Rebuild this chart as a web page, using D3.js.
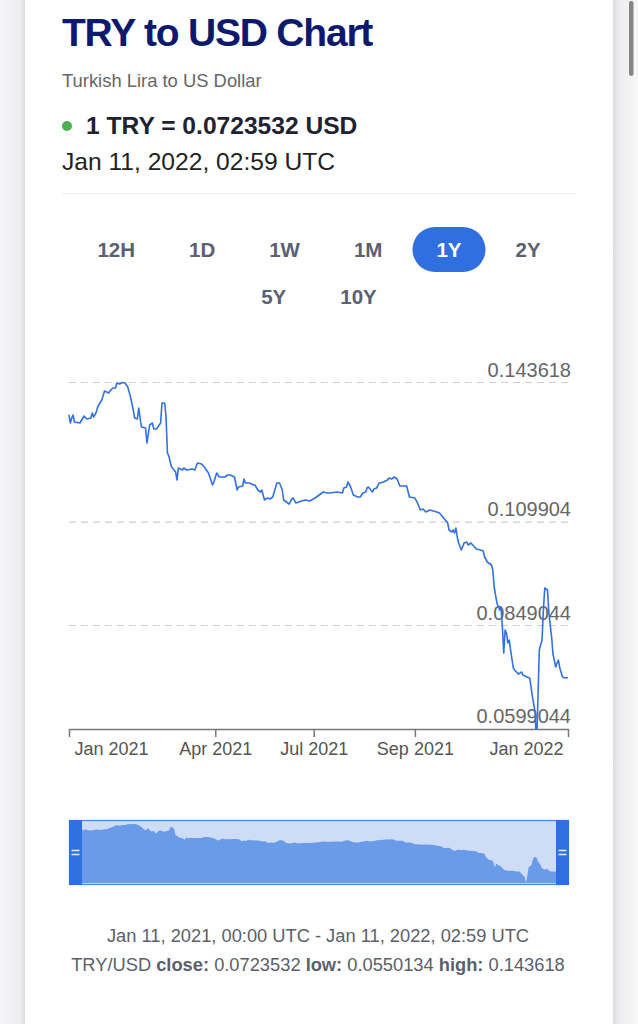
<!DOCTYPE html>
<html>
<head>
<meta charset="utf-8">
<script src="https://cdn.jsdelivr.net/npm/d3@7"></script>
<style>
  body { margin: 0; background: #f3f3f5; overflow: hidden; }
  svg { display: block; font-family: 'Liberation Sans', Arial, Helvetica, sans-serif; }
</style>
</head>
<body>
<svg id="page" width="638" height="1024"></svg>
<script>
// ---- data ----
const dates = [
  '2021-01-11','2021-01-12','2021-01-13','2021-01-14','2021-01-15','2021-01-19','2021-01-22','2021-01-24',
  '2021-01-27','2021-01-28','2021-01-29','2021-01-31','2021-02-01','2021-02-03','2021-02-04','2021-02-06',
  '2021-02-09','2021-02-10','2021-02-12','2021-02-14','2021-02-15','2021-02-17','2021-02-19','2021-02-21',
  '2021-02-23','2021-02-25','2021-02-27','2021-02-28','2021-03-02','2021-03-03','2021-03-04','2021-03-05',
  '2021-03-08','2021-03-09','2021-03-11','2021-03-13','2021-03-14','2021-03-16','2021-03-18','2021-03-19',
  '2021-03-20','2021-03-22','2021-03-23','2021-03-24','2021-03-25','2021-03-27','2021-03-30','2021-03-31',
  '2021-04-01','2021-04-04','2021-04-05','2021-04-07','2021-04-11','2021-04-13','2021-04-15','2021-04-18',
  '2021-04-20','2021-04-23','2021-04-26','2021-04-27','2021-04-29','2021-05-01','2021-05-03','2021-05-05',
  '2021-05-07','2021-05-09','2021-05-12','2021-05-14','2021-05-15','2021-05-18','2021-05-19','2021-05-20',
  '2021-05-23','2021-05-26','2021-05-27','2021-05-29','2021-05-31','2021-06-01','2021-06-02','2021-06-03',
  '2021-06-05','2021-06-07','2021-06-09','2021-06-11','2021-06-12','2021-06-14','2021-06-16','2021-06-17',
  '2021-06-19','2021-06-21','2021-06-23','2021-06-24','2021-06-26','2021-06-28','2021-06-30','2021-07-03',
  '2021-07-06','2021-07-10','2021-07-12','2021-07-16','2021-07-19','2021-07-21','2021-07-26','2021-07-30',
  '2021-07-31','2021-08-02','2021-08-03','2021-08-05','2021-08-07','2021-08-10','2021-08-12','2021-08-14',
  '2021-08-16','2021-08-17','2021-08-18','2021-08-21','2021-08-22','2021-08-24','2021-08-26','2021-08-29',
  '2021-09-01','2021-09-02','2021-09-04','2021-09-06','2021-09-08','2021-09-10','2021-09-15','2021-09-17',
  '2021-09-21','2021-09-23','2021-09-25','2021-09-27','2021-09-29','2021-10-02','2021-10-07','2021-10-09',
  '2021-10-12','2021-10-15','2021-10-16','2021-10-18','2021-10-19','2021-10-20','2021-10-21','2021-10-22',
  '2021-10-23','2021-10-25','2021-10-27','2021-10-29','2021-10-30','2021-11-01','2021-11-03','2021-11-05',
  '2021-11-08','2021-11-10','2021-11-11','2021-11-13','2021-11-16','2021-11-17','2021-11-18','2021-11-20',
  '2021-11-22','2021-11-23','2021-11-24','2021-11-25','2021-11-26','2021-11-27','2021-11-28','2021-11-29',
  '2021-11-30','2021-12-02','2021-12-03','2021-12-05','2021-12-06','2021-12-08','2021-12-09','2021-12-12',
  '2021-12-14','2021-12-16','2021-12-18','2021-12-19','2021-12-21','2021-12-23','2021-12-24','2021-12-25',
  '2021-12-27','2021-12-28','2021-12-30','2021-12-31','2022-01-02','2022-01-03','2022-01-04','2022-01-05',
  '2022-01-07','2022-01-09','2022-01-11'
];
const rates = [
  0.13577,0.13383,0.13504,0.13577,0.13408,0.13383,0.13553,0.13480,
  0.13504,0.13625,0.13528,0.13649,0.13770,0.13891,0.13939,0.14156,
  0.14108,0.14156,0.14229,0.14229,0.14350,0.14326,0.143618,0.14350,
  0.14253,0.14011,0.13698,0.13504,0.13480,0.13746,0.13504,0.13287,
  0.13263,0.12900,0.13335,0.13383,0.13239,0.13239,0.13335,0.13383,
  0.13867,0.13867,0.13528,0.12659,0.12586,0.12320,0.12199,0.12006,
  0.12296,0.12248,0.12296,0.12248,0.12272,0.12248,0.12417,0.12393,
  0.12320,0.12175,0.11886,0.11958,0.12175,0.12079,0.12079,0.12079,
  0.12127,0.12127,0.12079,0.11765,0.11837,0.11861,0.12030,0.11934,
  0.11934,0.11886,0.11886,0.11765,0.11716,0.11765,0.11644,0.11523,
  0.11571,0.11547,0.11595,0.11813,0.11934,0.11934,0.11765,0.11523,
  0.11475,0.11426,0.11547,0.11571,0.11450,0.11475,0.11499,0.11523,
  0.11499,0.11571,0.11620,0.11716,0.11692,0.11692,0.11716,0.11692,
  0.11813,0.11837,0.11958,0.11837,0.11644,0.11595,0.11595,0.11692,
  0.11716,0.11813,0.11837,0.11716,0.11789,0.11813,0.11934,0.11958,
  0.12006,0.12055,0.12030,0.12079,0.12030,0.11861,0.11861,0.11595,
  0.11571,0.11450,0.11281,0.11306,0.11233,0.11281,0.11233,0.11209,
  0.11088,0.10968,0.10798,0.10750,0.10798,0.10726,0.10847,0.10629,
  0.10484,0.10315,0.10484,0.10508,0.10436,0.10484,0.10412,0.10339,
  0.10315,0.10291,0.10146,0.10025,0.09953,0.09832,0.09421,0.09035,
  0.08866,0.08938,0.08455,0.07827,0.08382,0.08310,0.08068,0.08141,
  0.07899,0.07464,0.07416,0.07343,0.07319,0.07368,0.07295,0.07247,
  0.07223,0.06764,0.06377,0.0550134,0.07899,0.08141,0.08866,0.09397,
  0.09349,0.08793,0.08213,0.07809,0.07489,0.07585,0.07657,0.07464,
  0.07247,0.07223,0.0723532
];
const yTicks = [0.0599044, 0.0849044, 0.109904, 0.143618];
const yTickLabels = ['0.0599044', '0.0849044', '0.109904', '0.143618'];
const xTickDates = ['2021-01-11', '2021-04-28', '2021-07-09', '2021-09-21', '2022-01-11'];
const xTickLabels = ['Jan 2021', 'Apr 2021', 'Jul 2021', 'Sep 2021', 'Jan 2022'];
const ranges = ['12H', '1D', '1W', '1M', '1Y', '2Y', '5Y', '10Y'];
const activeRange = '1Y';

const blue = '#2f6fe0';
const parseDate = d3.timeParse('%Y-%m-%d');
const series = dates.map((d, i) => ({ date: parseDate(d), value: rates[i] }));

const svg = d3.select('#page');
const defs = svg.append('defs');

// ---- page / card ----
const shadeL = defs.append('linearGradient').attr('id', 'shadeL');
shadeL.append('stop').attr('offset', '0%').attr('stop-color', '#f5f5f7');
shadeL.append('stop').attr('offset', '80%').attr('stop-color', '#eeeef0');
shadeL.append('stop').attr('offset', '100%').attr('stop-color', '#dcdce0');
const shadeR = defs.append('linearGradient').attr('id', 'shadeR');
shadeR.append('stop').attr('offset', '0%').attr('stop-color', '#dcdce0');
shadeR.append('stop').attr('offset', '25%').attr('stop-color', '#eeeef0');
shadeR.append('stop').attr('offset', '100%').attr('stop-color', '#f7f7f8');

svg.append('rect').attr('x', 0).attr('y', 0).attr('width', 25).attr('height', 1024).attr('fill', 'url(#shadeL)');
svg.append('rect').attr('x', 613).attr('y', 0).attr('width', 25).attr('height', 1024).attr('fill', 'url(#shadeR)');
svg.append('rect').attr('x', 25).attr('y', 0).attr('width', 588).attr('height', 1024).attr('fill', '#fff');
svg.append('rect').attr('x', 629).attr('y', 1).attr('width', 4.5).attr('height', 75).attr('rx', 2.2).attr('fill', '#858585');

// ---- header ----
svg.append('text').attr('x', 62).attr('y', 46)
  .attr('font-size', 39).attr('font-weight', 'bold').attr('letter-spacing', -1.2).attr('fill', '#0d1a6c')
  .text('TRY to USD Chart');
svg.append('text').attr('x', 62).attr('y', 87)
  .attr('font-size', 18.4).attr('fill', '#666')
  .text('Turkish Lira to US Dollar');
svg.append('circle').attr('cx', 67).attr('cy', 126).attr('r', 5).attr('fill', '#4caf50');
svg.append('text').attr('x', 86).attr('y', 134)
  .attr('font-size', 24.6).attr('font-weight', 'bold').attr('fill', '#1e2231')
  .text('1 TRY = 0.0723532 USD');
svg.append('text').attr('x', 62).attr('y', 170)
  .attr('font-size', 24.6).attr('fill', '#222')
  .text('Jan 11, 2022, 02:59 UTC');
svg.append('line').attr('x1', 62).attr('x2', 576).attr('y1', 193.5).attr('y2', 193.5)
  .attr('stroke', '#ececec');

// ---- range buttons (wrapped, centred rows) ----
const btnPad = 27, rowWidth = 514, rowCenter = 319, rowYs = [249.5, 296.5];
const btnG = svg.append('g');
const btns = btnG.selectAll('g').data(ranges).join('g');
btns.append('rect');
btns.append('text').text(d => d)
  .attr('font-size', 20.5).attr('font-weight', 'bold')
  .attr('text-anchor', 'middle')
  .attr('fill', d => d === activeRange ? '#fff' : '#5b6072');
const widths = [];
btns.select('text').each(function () { widths.push(this.getComputedTextLength() + 2 * btnPad); });
const rows = [];
let cur = [], curW = 0;
ranges.forEach((r, i) => {
  if (cur.length && curW + widths[i] > rowWidth) { rows.push(cur); cur = []; curW = 0; }
  cur.push(i); curW += widths[i];
});
rows.push(cur);
rows.forEach((row, ri) => {
  const total = d3.sum(row, i => widths[i]);
  let xPos = rowCenter - total / 2;
  row.forEach(i => {
    const cx = xPos + widths[i] / 2;
    const g = d3.select(btns.nodes()[i]);
    g.select('text').attr('x', cx).attr('y', rowYs[ri] + 7);
    g.select('rect')
      .attr('x', cx - 36.5).attr('y', rowYs[ri] - 22.5)
      .attr('width', 73).attr('height', 45).attr('rx', 22.5)
      .attr('fill', ranges[i] === activeRange ? blue : 'none');
    xPos += widths[i];
  });
});

// ---- main chart ----
const x = d3.scaleTime()
  .domain([parseDate(dates[0]), parseDate(dates[dates.length - 1])])
  .range([69, 568]);
const y = d3.scaleLinear()
  .domain([yTicks[0], yTicks[yTicks.length - 1]])
  .range([729, 382.5]);

const grid = svg.append('g');
grid.selectAll('line').data(yTicks.slice(1)).join('line')
  .attr('x1', 69).attr('x2', 572)
  .attr('y1', d => y(d)).attr('y2', d => y(d))
  .attr('stroke', '#cfcfcf').attr('stroke-width', 1.2).attr('stroke-dasharray', '7,5');
grid.selectAll('text').data(yTicks).join('text')
  .attr('x', 571).attr('y', d => y(d) - 6)
  .attr('text-anchor', 'end').attr('font-size', 20).attr('fill', '#666')
  .text((d, i) => yTickLabels[i]);

const xAxis = svg.append('g')
  .attr('transform', 'translate(0,729)')
  .call(d3.axisBottom(x)
    .tickValues(xTickDates.map(parseDate))
    .tickFormat((d, i) => xTickLabels[i])
    .tickSize(8).tickSizeOuter(0));
xAxis.attr('font-family', null);
xAxis.select('.domain').attr('stroke', '#777').attr('stroke-width', 1.5);
xAxis.selectAll('.tick line').attr('stroke', '#777').attr('stroke-width', 1.5);
xAxis.selectAll('.tick text')
  .attr('y', 13).attr('font-size', 18).attr('fill', '#555')
  .attr('text-anchor', (d, i) => i === 0 ? 'start' : i === xTickDates.length - 1 ? 'end' : 'middle')
  .attr('dx', (d, i) => i === 0 ? 5 : i === xTickDates.length - 1 ? -5 : 0);

defs.append('clipPath').attr('id', 'plotClip')
  .append('rect').attr('x', 60).attr('y', 360).attr('width', 520).attr('height', 369);

svg.append('path')
  .datum(series)
  .attr('clip-path', 'url(#plotClip)')
  .attr('fill', 'none').attr('stroke', '#3371de').attr('stroke-width', 1.6)
  .attr('stroke-linejoin', 'round')
  .attr('d', d3.line().x(d => x(d.date)).y(d => y(d.value)));

// ---- navigator ----
const navTop = 820, navBottom = 885;
const xn = d3.scaleTime().domain(x.domain()).range([82, 556]);
const yn = d3.scaleLinear().domain(d3.extent(rates)).range([883, 824]);

svg.append('rect').attr('x', 82).attr('y', navTop).attr('width', 474).attr('height', navBottom - navTop)
  .attr('fill', '#cfdcf6');
svg.append('path')
  .datum(series)
  .attr('fill', '#6a9be9')
  .attr('d', d3.area().x(d => xn(d.date)).y0(883).y1(d => yn(d.value)));
svg.append('rect').attr('x', 69.5).attr('y', navTop + 0.5).attr('width', 499).attr('height', navBottom - navTop - 1)
  .attr('fill', 'none').attr('stroke', '#4a86e8').attr('stroke-width', 1.2);
[[69, 82], [556, 569]].forEach(([a, b]) => {
  svg.append('rect').attr('x', a).attr('y', navTop).attr('width', b - a).attr('height', navBottom - navTop)
    .attr('fill', blue);
  [850.5, 854.5].forEach(yy => svg.append('line')
    .attr('x1', a + 2.5).attr('x2', b - 2.5).attr('y1', yy).attr('y2', yy)
    .attr('stroke', '#dfe8fb').attr('stroke-width', 1.6));
});

// ---- footer ----
svg.append('text').attr('x', 318).attr('y', 942).attr('text-anchor', 'middle')
  .attr('font-size', 18.3).attr('fill', '#5b5f6b')
  .text('Jan 11, 2021, 00:00 UTC - Jan 11, 2022, 02:59 UTC');
const foot = svg.append('text').attr('x', 318).attr('y', 971).attr('text-anchor', 'middle')
  .attr('font-size', 18.3).attr('fill', '#5b5f6b');
[['TRY/USD ', false], ['close:', true], [' 0.0723532 ', false], ['low:', true],
 [' 0.0550134 ', false], ['high:', true], [' 0.143618', false]].forEach(([t, b]) => {
  foot.append('tspan').attr('font-weight', b ? 'bold' : null).text(t);
});
</script>
</body>
</html>
